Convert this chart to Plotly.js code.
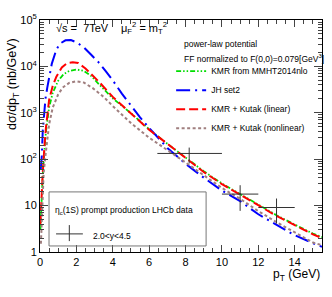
<!DOCTYPE html>
<html><head><meta charset="utf-8">
<script src="https://cdn.plot.ly/plotly-3.0.1.min.js"></script>
<style>html,body{margin:0;padding:0;background:#fff;}#c{width:332px;height:297px;}</style>
</head><body><div id="c"></div>
<script>
// KMR from MMHT2014nlo (green)
const ptGreen = [0.02,0.08,0.15,0.25,0.33,0.5,0.7,1.0,1.3,1.6,2.0,2.4,2.8,3.3,4.0,5.0,6.0,7.0,8.0,9.0,10,11,12,13,14,15,15.5];
const valGreen = [3,18,45,170,400,1300,2700,4900,6800,8000,8600,8000,6300,3900,2050,980,440,215,108,55,30,17.5,10.3,6.2,3.9,2.5,2.1];
// JH set2 (blue)
const ptBlue = [0.04,0.1,0.15,0.2,0.3,0.4,0.5,0.65,0.9,1.1,1.4,1.7,2.0,2.4,2.8,3.2,3.6,4.0,4.5,5.0,5.5,6.0,6.5,7.0,8.0,9.0,10,11,12,13,14,15,15.5];
const valBlue = [60,120,400,800,2000,3500,6000,11500,23000,31000,36500,37000,33000,26000,18000,12500,8000,5000,2600,1400,800,470,280,175,80,40,21,12.5,6.5,3.8,2.3,1.55,1.3];
// KMR + Kutak (linear) (red)
const ptRed = [0.02,0.08,0.15,0.25,0.33,0.5,0.7,0.9,1.2,1.5,1.8,2.1,2.5,2.8,3.3,4.0,5.0,6.0,7.0,8.0,9.0,10,11,12,13,14,15,15.5];
const valRed = [4,20,50,200,490,1900,3800,6000,9500,11800,12300,11800,9000,6900,4400,2200,980,430,215,105,53,29,17,10,6,3.8,2.4,2.0];
// KMR + Kutak (nonlinear) (brown)
const ptBrown = [0.05,0.1,0.15,0.2,0.3,0.4,0.5,0.7,1.0,1.25,1.6,2.0,2.4,2.9,3.5,4.0,5.0,6.0,7.0,8.0,9.0,10,11,12,13,14,15,15.5];
const valBrown = [1.5,6,20,50,120,300,560,1300,2500,3500,4400,4800,4500,3400,2200,1400,600,290,160,85,45,24,14,7.6,4.4,2.6,1.6,1.4];
// LHCb data
const dataX = [8.2,11,13];
const dataXlo = [6.45,10,12];
const dataXhi = [10,12,14];
const dataY = [133,17.7,9.1];
const dataYlo = [81,7.7,4.1];
const dataYhi = [178,27.5,14.2];

const xTickVals = [0,2,4,6,8,10,12,14];
const yTickVals = [1,10,100,1000,10000,100000];
const yTickText = ['1','10','10<sup>2</sup>','10<sup>3</sup>','10<sup>4</sup>','10<sup>5</sup>'];

const F = 'Liberation Sans, Arial, sans-serif';
const traces = [
  {x: ptGreen, y: valGreen, name: 'KMR from MMHT2014nlo', mode:'lines',
   line:{color:'#00dd00', width:1.8, dash:'5px,2px,1.5px,2px,1.5px,2px'}},
  {x: ptBlue, y: valBlue, name: 'JH set2', mode:'lines',
   line:{color:'#0000ff', width:2, dash:'14px,5px,2px,5px'}},
  {x: ptRed, y: valRed, name: 'KMR + Kutak (linear)', mode:'lines',
   line:{color:'#ff0000', width:2, dash:'9px,4px'}},
  {x: ptBrown, y: valBrown, name: 'KMR + Kutak (nonlinear)', mode:'lines',
   line:{color:'#a07f7f', width:2, dash:'3px,2.5px'}},
  {x: dataX, y: dataY, mode:'markers', showlegend:false,
   marker:{size:1, color:'#333'},
   error_x:{type:'data', symmetric:false,
     array: dataX.map((v,i)=>dataXhi[i]-v), arrayminus: dataX.map((v,i)=>v-dataXlo[i]),
     color:'#333', thickness:1, width:0},
   error_y:{type:'data', symmetric:false,
     array: dataY.map((v,i)=>dataYhi[i]-v), arrayminus: dataY.map((v,i)=>v-dataYlo[i]),
     color:'#333', thickness:1, width:0}}
];

const layout = {
  width:332, height:297,
  margin:{l:40, r:10, t:20, b:45},
  paper_bgcolor:'#fff', plot_bgcolor:'#fff',
  font:{family:F, size:11, color:'#000'},
  showlegend:true,
  legend:{x:0.465, y:0.842, xanchor:'left', yanchor:'top', bgcolor:'rgba(0,0,0,0)', traceorder:'normal',
    font:{family:F, size:8.5, color:'#000'}, itemwidth:30},
  xaxis:{type:'linear', range:[0,15.5], tickvals:xTickVals, ticks:'inside', ticklen:7,
    showline:true, linecolor:'#000', linewidth:1, mirror:'allticks', showgrid:false, zeroline:false,
    tickfont:{family:F, size:11}, minor:{dtick:0.5, tick0:0, ticks:'inside', ticklen:4, showgrid:false}},
  yaxis:{type:'log', range:[0,5], tickvals:yTickVals, ticktext:yTickText, ticks:'inside', ticklen:8,
    showline:true, linecolor:'#000', linewidth:1, mirror:'allticks', showgrid:false, zeroline:false,
    tickfont:{family:F, size:11}, minor:{dtick:'D1', ticks:'inside', ticklen:4, showgrid:false}},
  shapes:[
    {type:'rect', xref:'paper', yref:'paper', x0:0.032, x1:0.589, y0:0.026, y1:0.259,
     line:{color:'#777', width:1}, fillcolor:'rgba(255,255,255,0)'},
    {type:'line', xref:'paper', yref:'paper', x0:0.057, x1:0.152, y0:0.078, y1:0.078, line:{color:'#333', width:1}},
    {type:'line', xref:'paper', yref:'paper', x0:0.104, x1:0.104, y0:0.047, y1:0.116, line:{color:'#333', width:1}}
  ],
  annotations:[
    {xref:'paper', yref:'paper', x:0.05, y:0.965, xanchor:'left', yanchor:'middle', showarrow:false,
     text:'√s =  7TeV', font:{family:F, size:11}},
    {xref:'paper', yref:'paper', x:0.28, y:0.965, xanchor:'left', yanchor:'middle', showarrow:false,
     text:'μ<sub>F</sub><sup>2</sup> = m<sub>T</sub><sup>2</sup>', font:{family:F, size:11}},
    {xref:'paper', yref:'paper', x:0.505, y:0.897, xanchor:'left', yanchor:'middle', showarrow:false,
     text:'power-law potential', font:{family:F, size:8.5}},
    {xref:'paper', yref:'paper', x:0.505, y:0.836, xanchor:'left', yanchor:'middle', showarrow:false,
     text:'FF normalized to F(0,0)=0.079[GeV<sup>3</sup>]', font:{family:F, size:8.5}},
    {xref:'paper', yref:'paper', x:0.047, y:0.181, xanchor:'left', yanchor:'middle', showarrow:false,
     text:'η<sub>c</sub>(1S) prompt production LHCb data', font:{family:F, size:8.5}},
    {xref:'paper', yref:'paper', x:0.18, y:0.069, xanchor:'left', yanchor:'middle', showarrow:false,
     text:'2.0&lt;y&lt;4.5', font:{family:F, size:8.5}},
    {xref:'paper', yref:'paper', x:1.0, y:-0.1, xanchor:'right', yanchor:'middle', showarrow:false,
     text:'p<sub>T</sub> (GeV)', font:{family:F, size:12}},
    {xref:'paper', yref:'paper', x:-0.095, y:0.725, xanchor:'center', yanchor:'middle', showarrow:false,
     textangle:-90, text:'dσ/dp<sub>T</sub> (nb/GeV)', font:{family:F, size:12.5}}
  ]
};
Plotly.newPlot('c', traces, layout, {displayModeBar:false, staticPlot:true});
</script></body></html>
